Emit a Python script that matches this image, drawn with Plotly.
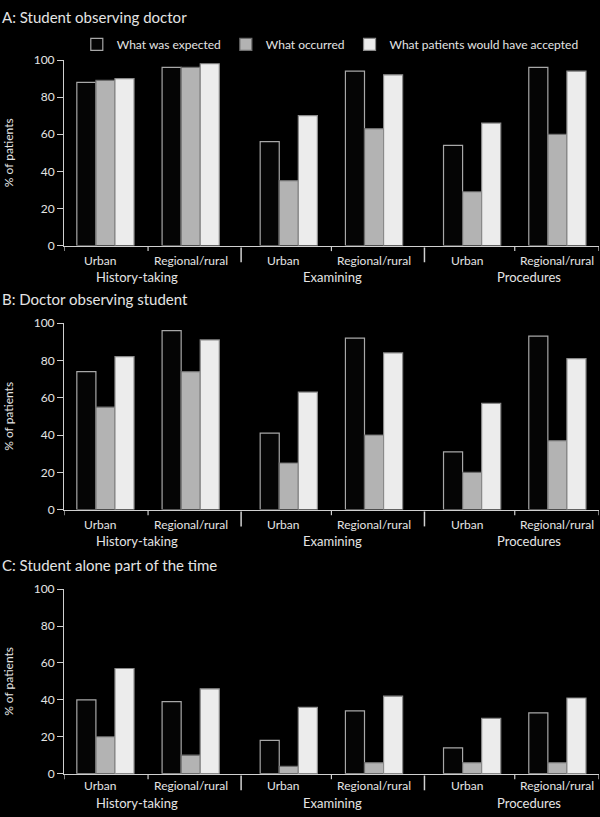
import plotly.graph_objects as go

# ---------------- data ----------------
panel_titles = ["A: Student observing doctor",
                "B: Doctor observing student",
                "C: Student alone part of the time"]
settings = ["Urban", "Regional/rural"]
activities = ["History-taking", "Examining", "Procedures"]
series_names = ["What was expected", "What occurred",
                "What patients would have accepted"]

a_expected = [88, 96, 56, 94, 54, 96]
a_occurred = [89, 96, 35, 63, 29, 60]
a_accepted = [90, 98, 70, 92, 66, 94]

b_expected = [74, 96, 41, 92, 31, 93]
b_occurred = [55, 74, 25, 40, 20, 37]
b_accepted = [82, 91, 63, 84, 57, 81]

c_expected = [40, 39, 18, 34, 14, 33]
c_occurred = [20, 10, 4, 6, 6, 6]
c_accepted = [57, 46, 36, 42, 30, 41]

y_ticks = [0, 20, 40, 60, 80, 100]

panels = [
    [a_expected, a_occurred, a_accepted],
    [b_expected, b_occurred, b_accepted],
    [c_expected, c_occurred, c_accepted],
]

# ---------------- layout constants ----------------
W, H = 600, 817
FONT = "Lato"
TXT = "#e4e4e4"
fills = ["#050505", "#b3b3b3", "#ececec"]
lines = ["#a8a8a8", "#6e6e6e", "#8a8a8a"]

SUB_STEP = 0.465          # distance Urban -> Regional within an activity
BAR_W = 0.104
X_RANGE = [-0.226, 2.692]
X_DOMAIN = [64 / W, 599 / W]
# plot areas (pixel top, pixel bottom)
plot_px = [(53, 242), (321, 511), (592, 780)]
title_px = [9, 296, 567]
label_shift = [(-15, -31), (-15, -31), (-12, -29)]
act_label_pos = [0.172, 1.238, 2.31]
urban_shift = -0.03

# positions of the groups
group_x = []
group_lbl = []
for i, act in enumerate(activities):
    for j, s in enumerate(settings):
        group_x.append(i + SUB_STEP * j)
        group_lbl.append(s)

fig = go.Figure()
layout = dict(
    width=W, height=H,
    margin=dict(l=0, r=0, t=0, b=0),
    paper_bgcolor="black", plot_bgcolor="black",
    barmode="overlay",
    font=dict(family=FONT, color=TXT, size=12),
    showlegend=True,
    legend=dict(orientation="h", x=0.128, y=1 - 37 / H,
                xanchor="left", yanchor="middle",
                font=dict(size=12, color=TXT),
                bgcolor="rgba(0,0,0,0)", itemwidth=30,
                traceorder="normal"),
)

annotations = []
shapes = []

for p, series in enumerate(panels):
    sfx = "" if p == 0 else str(p + 1)
    xa, ya = "x" + sfx, "y" + sfx
    top, bot = plot_px[p]
    for k, vals in enumerate(series):
        fig.add_trace(go.Bar(
            x=group_x, y=vals, width=BAR_W, offset=(k - 1.5) * BAR_W,
            name=series_names[k], legendgroup=series_names[k],
            showlegend=(p == 0),
            marker=dict(color=fills[k], line=dict(color=lines[k], width=1.2)),
            xaxis=xa, yaxis=ya,
        ))
    layout["xaxis" + sfx] = dict(
        domain=X_DOMAIN, range=X_RANGE, anchor=ya,
        showline=True, linecolor="#d0d0d0", linewidth=1,
        showticklabels=False, ticks="", showgrid=False, zeroline=False,
        fixedrange=True,
    )
    layout["yaxis" + sfx] = dict(
        domain=[1 - bot / H, 1 - top / H], range=[0, 100], anchor=xa,
        tickvals=y_ticks, ticks="outside", ticklen=6, tickcolor="#d0d0d0",
        showline=True, linecolor="#d0d0d0", linewidth=1,
        showgrid=False, zeroline=False,
        tickfont=dict(size=12, color=TXT),
        title=dict(text="% of patients", font=dict(size=12, color=TXT),
                   standoff=17),
        fixedrange=True,
    )
    # panel title
    annotations.append(dict(
        text=panel_titles[p], xref="paper", yref="paper", x=0, y=1 - title_px[p] / H,
        xanchor="left", yanchor="middle", showarrow=False,
        font=dict(size=15, color=TXT)))
    # setting labels
    for gx, lbl in zip(group_x, group_lbl):
        annotations.append(dict(
            text=lbl, xref=xa, yref=ya + " domain",
            x=gx + (urban_shift if lbl == settings[0] else 0), y=0,
            xanchor="center", yanchor="middle", yshift=label_shift[p][0],
            showarrow=False, font=dict(size=12, color=TXT)))
    # activity labels
    for ax_pos, act in zip(act_label_pos, activities):
        annotations.append(dict(
            text=act, xref=xa, yref=ya + " domain", x=ax_pos, y=0,
            xanchor="center", yanchor="middle", yshift=label_shift[p][1],
            showarrow=False, font=dict(size=13, color=TXT)))
    # axis tick marks: short ones at each activity midpoint and ends,
    # long separators between activities
    short_ticks = [X_RANGE[0], X_RANGE[1]] + [i + SUB_STEP / 2 for i in range(len(activities))]
    long_ticks = [i + 0.74 for i in range(len(activities) - 1)]
    for tx in short_ticks:
        shapes.append(dict(type="line", xref=xa, yref=ya + " domain",
                           x0=tx, x1=tx, y0=-0.005, y1=-0.03,
                           line=dict(color="#d0d0d0", width=1.2)))
    for tx in long_ticks:
        shapes.append(dict(type="line", xref=xa, yref=ya + " domain",
                           x0=tx, x1=tx, y0=-0.01, y1=-0.09,
                           line=dict(color="#d0d0d0", width=1.5)))

layout["annotations"] = annotations
layout["shapes"] = shapes
fig.update_layout(**layout)
fig.write_html(
    "out.html",
    config={"displayModeBar": False},
    post_script="document.body.style.margin='0';document.body.style.padding='0';"
                "document.body.style.background='black';",
)
